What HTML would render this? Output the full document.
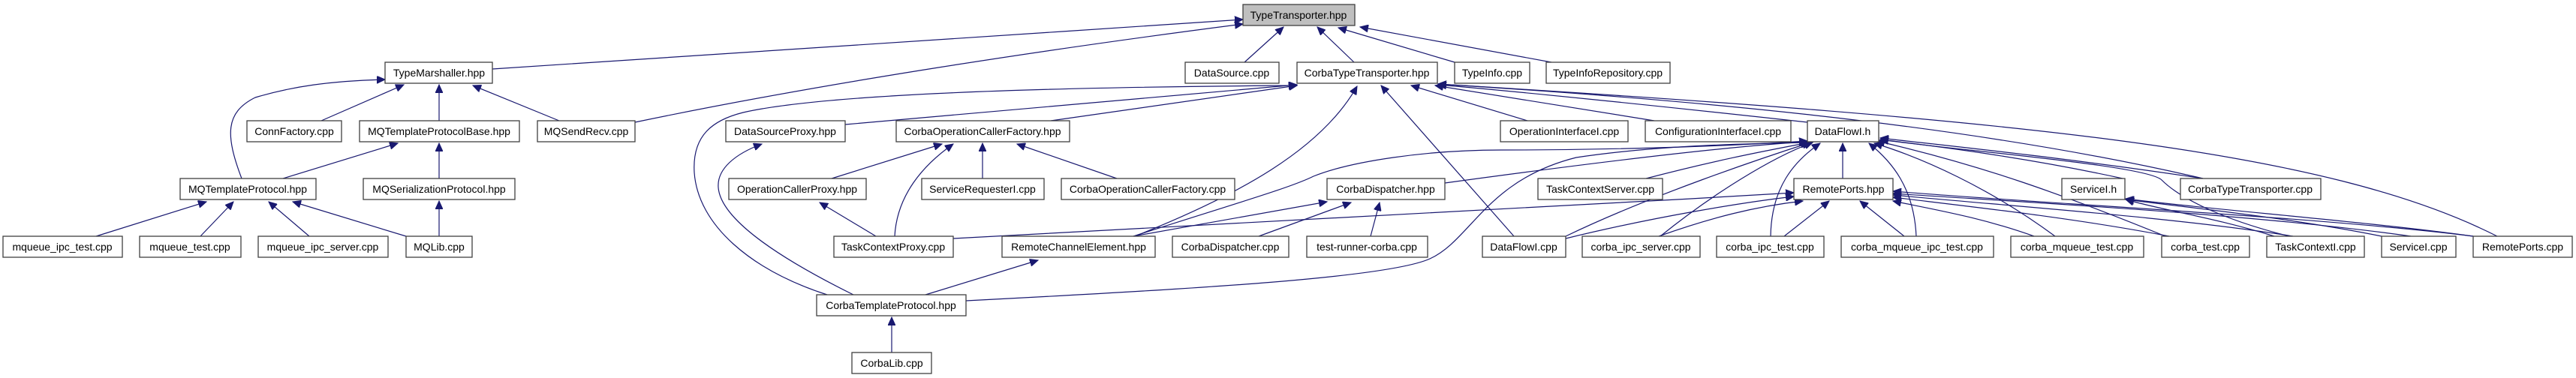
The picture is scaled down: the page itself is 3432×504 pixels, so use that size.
<!DOCTYPE html>
<html><head><meta charset="utf-8"><style>
html,body{margin:0;padding:0;background:#fff;}
svg{display:block}
text{font-family:"Liberation Sans","DejaVu Sans",sans-serif;font-size:14px;fill:#000;text-anchor:middle}
rect{fill:#fff;stroke:#404040;stroke-width:1.3}
path{fill:none;stroke:#191970;stroke-width:1.2}
</style></head><body>
<svg width="3432" height="504" viewBox="0 0 3432 504" xmlns="http://www.w3.org/2000/svg">
<defs><marker id="a" markerUnits="userSpaceOnUse" markerWidth="12" markerHeight="10" refX="11" refY="5" orient="auto"><path d="M0,0 L11,5 L0,10 Z" style="fill:#191970;stroke:#191970;stroke-width:1"/></marker></defs>
<g marker-end="url(#a)">
<!-- to TypeTransporter -->
<path d="M656,92 C900,75 1300,50 1656,26"/>
<path d="M846,163 C1100,110 1400,65 1656,32"/>
<path d="M1658,83 L1710,36"/>
<path d="M1804,83 L1755,36"/>
<path d="M1938,83 L1783,37"/>
<path d="M2067,83 L1812,36"/>
<!-- to TypeMarshaller -->
<path d="M428,161 L538,113"/>
<path d="M585,161 L585,113"/>
<path d="M745,161 L630,114"/>
<path d="M322,238 C300,180 300,150 340,130 C390,115 440,108 513,106"/>
<!-- to MQTemplateProtocolBase -->
<path d="M377,238 L530,191"/>
<path d="M585,238 L585,191"/>
<!-- to MQTemplateProtocol -->
<path d="M128,315 L275,269"/>
<path d="M267,315 L311,269"/>
<path d="M412,315 L358,269"/>
<path d="M541,315 L390,269"/>
<path d="M585,315 L585,268"/>
<!-- to CorbaTypeTransporter.hpp -->
<path d="M1126,166 L1728,113"/>
<path d="M1400,161 L1728,114"/>
<path d="M1102,393 C1000,360 930,300 925,230 C922,180 950,160 990,150 C1100,125 1400,116 1728,114"/>
<path d="M1512,315 C1650,260 1760,200 1808,115"/>
<path d="M2017,315 L1840,114"/>
<path d="M2035,161 L1880,114"/>
<path d="M2204,161 L1912,114"/>
<path d="M2408,163 C2200,140 2000,120 1916,113"/>
<path d="M2935,238 C2600,160 2200,130 1916,112"/>
<path d="M3327,315 C3100,200 2700,160 1916,112"/>
<!-- to CorbaOperationCallerFactory.hpp -->
<path d="M1108,238 L1255,192"/>
<path d="M1192,315 C1195,260 1230,220 1270,192"/>
<path d="M1309,238 L1309,191"/>
<path d="M1488,238 L1355,192"/>
<!-- to DataSourceProxy -->
<path d="M1137,393 C1030,340 960,290 957,250 C955,225 980,205 1015,192"/>
<!-- to OperationCallerProxy -->
<path d="M1167,315 L1092,270"/>
<!-- to RemoteChannelElement -->
<path d="M1233,393 L1383,347"/>
<!-- to CorbaDispatcher.hpp -->
<path d="M1510,315 L1768,269"/>
<path d="M1677,315 L1800,270"/>
<path d="M1826,315 L1838,270"/>
<!-- to CorbaTemplateProtocol -->
<path d="M1188,470 L1188,423"/>
<!-- to DataFlowI.h -->
<path d="M1287,401 C1600,385 1850,370 1905,345 C1960,320 1980,240 2100,210 C2200,195 2300,192 2408,190"/>
<path d="M1510,315 C1650,270 1720,250 1750,235 C1800,215 1900,200 2000,200 C2150,200 2300,195 2408,188"/>
<path d="M1925,244 C2100,220 2300,195 2408,189"/>
<path d="M2193,238 C2300,210 2370,198 2410,190"/>
<path d="M2086,315 C2200,260 2350,210 2412,190"/>
<path d="M2212,315 C2280,260 2360,210 2415,190"/>
<path d="M2359,315 C2360,250 2390,215 2425,191"/>
<path d="M2553,315 C2550,250 2520,215 2490,191"/>
<path d="M2738,315 C2650,250 2560,210 2497,191"/>
<path d="M2885,315 C2750,260 2640,220 2500,188"/>
<path d="M2828,238 C2700,210 2580,195 2505,186"/>
<path d="M2935,238 C2750,210 2600,195 2505,184"/>
<path d="M3050,315 C2950,290 2900,260 2880,240 C2860,220 2600,200 2505,186"/>
<path d="M2455,238 L2455,191"/>
<!-- to RemotePorts.hpp -->
<path d="M1270,318 C1600,300 2000,280 2390,257"/>
<path d="M2086,318 C2200,290 2320,270 2390,262"/>
<path d="M2210,315 C2280,290 2340,275 2402,268"/>
<path d="M2377,315 L2437,268"/>
<path d="M2537,315 L2478,268"/>
<path d="M2710,315 C2640,290 2580,280 2522,268"/>
<path d="M2890,315 C2760,290 2620,275 2522,263"/>
<path d="M3055,315 C2900,290 2680,275 2522,260"/>
<path d="M3212,315 C3000,285 2700,270 2522,258"/>
<path d="M3295,315 C3100,290 2700,270 2522,255"/>
<!-- to ServiceI.h -->
<path d="M3030,315 C2950,290 2880,280 2832,266"/>
<path d="M3173,315 C3050,290 2900,275 2832,266"/>
<path d="M3295,315 C3150,295 2950,280 2832,265"/>
</g>
<g>
<rect x="1656" y="6" width="149" height="28" style="fill:#bfbfbf"/><text x="1730" y="25">TypeTransporter.hpp</text>
<rect x="513" y="83" width="143" height="28"/><text x="585" y="102">TypeMarshaller.hpp</text>
<rect x="1579" y="83" width="125" height="28"/><text x="1641" y="102">DataSource.cpp</text>
<rect x="1728" y="83" width="187" height="28"/><text x="1821" y="102">CorbaTypeTransporter.hpp</text>
<rect x="1938" y="83" width="100" height="28"/><text x="1988" y="102">TypeInfo.cpp</text>
<rect x="2060" y="83" width="165" height="28"/><text x="2142" y="102">TypeInfoRepository.cpp</text>
<rect x="329" y="161" width="126" height="28"/><text x="392" y="180">ConnFactory.cpp</text>
<rect x="479" y="161" width="213" height="28"/><text x="585" y="180">MQTemplateProtocolBase.hpp</text>
<rect x="716" y="161" width="130" height="28"/><text x="781" y="180">MQSendRecv.cpp</text>
<rect x="967" y="161" width="159" height="28"/><text x="1046" y="180">DataSourceProxy.hpp</text>
<rect x="1194" y="161" width="231" height="28"/><text x="1309" y="180">CorbaOperationCallerFactory.hpp</text>
<rect x="1999" y="161" width="170" height="28"/><text x="2084" y="180">OperationInterfaceI.cpp</text>
<rect x="2192" y="161" width="194" height="28"/><text x="2289" y="180">ConfigurationInterfaceI.cpp</text>
<rect x="2408" y="161" width="95" height="28"/><text x="2455" y="180">DataFlowI.h</text>
<rect x="240" y="238" width="181" height="28"/><text x="330" y="257">MQTemplateProtocol.hpp</text>
<rect x="484" y="238" width="202" height="28"/><text x="585" y="257">MQSerializationProtocol.hpp</text>
<rect x="971" y="238" width="183" height="28"/><text x="1062" y="257">OperationCallerProxy.hpp</text>
<rect x="1228" y="238" width="163" height="28"/><text x="1309" y="257">ServiceRequesterI.cpp</text>
<rect x="1414" y="238" width="231" height="28"/><text x="1529" y="257">CorbaOperationCallerFactory.cpp</text>
<rect x="1768" y="238" width="157" height="28"/><text x="1846" y="257">CorbaDispatcher.hpp</text>
<rect x="2049" y="238" width="166" height="28"/><text x="2132" y="257">TaskContextServer.cpp</text>
<rect x="2390" y="238" width="132" height="28"/><text x="2456" y="257">RemotePorts.hpp</text>
<rect x="2747" y="238" width="84" height="28"/><text x="2789" y="257">ServiceI.h</text>
<rect x="2905" y="238" width="187" height="28"/><text x="2998" y="257">CorbaTypeTransporter.cpp</text>
<rect x="4" y="315" width="159" height="28"/><text x="83" y="334">mqueue_ipc_test.cpp</text>
<rect x="186" y="315" width="135" height="28"/><text x="253" y="334">mqueue_test.cpp</text>
<rect x="344" y="315" width="173" height="28"/><text x="430" y="334">mqueue_ipc_server.cpp</text>
<rect x="541" y="315" width="88" height="28"/><text x="585" y="334">MQLib.cpp</text>
<rect x="1111" y="315" width="159" height="28"/><text x="1190" y="334">TaskContextProxy.cpp</text>
<rect x="1335" y="315" width="204" height="28"/><text x="1437" y="334">RemoteChannelElement.hpp</text>
<rect x="1562" y="315" width="155" height="28"/><text x="1639" y="334">CorbaDispatcher.cpp</text>
<rect x="1741" y="315" width="161" height="28"/><text x="1821" y="334">test-runner-corba.cpp</text>
<rect x="1975" y="315" width="111" height="28"/><text x="2030" y="334">DataFlowI.cpp</text>
<rect x="2108" y="315" width="157" height="28"/><text x="2186" y="334">corba_ipc_server.cpp</text>
<rect x="2287" y="315" width="143" height="28"/><text x="2358" y="334">corba_ipc_test.cpp</text>
<rect x="2453" y="315" width="203" height="28"/><text x="2554" y="334">corba_mqueue_ipc_test.cpp</text>
<rect x="2679" y="315" width="177" height="28"/><text x="2767" y="334">corba_mqueue_test.cpp</text>
<rect x="2880" y="315" width="117" height="28"/><text x="2938" y="334">corba_test.cpp</text>
<rect x="3020" y="315" width="130" height="28"/><text x="3085" y="334">TaskContextI.cpp</text>
<rect x="3173" y="315" width="99" height="28"/><text x="3222" y="334">ServiceI.cpp</text>
<rect x="3295" y="315" width="132" height="28"/><text x="3361" y="334">RemotePorts.cpp</text>
<rect x="1088" y="393" width="199" height="28"/><text x="1187" y="412">CorbaTemplateProtocol.hpp</text>
<rect x="1135" y="470" width="106" height="28"/><text x="1188" y="489">CorbaLib.cpp</text>
</g>
</svg>
</body></html>
